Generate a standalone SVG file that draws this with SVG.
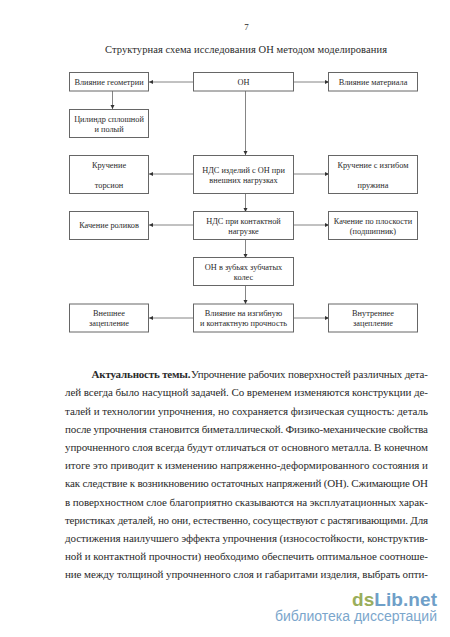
<svg xmlns="http://www.w3.org/2000/svg" width="450" height="637" viewBox="0 0 450 637">
<style>
text{font-family:"Liberation Serif","Times New Roman",serif;fill:#2a2a2a}
.n rect{fill:#fff;stroke:#666;stroke-width:1}
.n text{font-size:8.3px;text-anchor:middle}
.c line{stroke:#666;stroke-width:.8;marker-end:url(#a)}
.j{font-size:11px}
</style>
<defs><marker id="a" markerUnits="userSpaceOnUse" markerWidth="5" markerHeight="5" refX="4" refY="2.5" orient="auto"><path d="M0 .5L4 2.5L0 4.5z" fill="#333"/></marker></defs>
<rect width="450" height="637" fill="#fff"/>
<text x="246.500" y="30" font-size="9" text-anchor="middle">7</text>
<text x="246" y="53" font-size="10.5" text-anchor="middle" textLength="282">Структурная схема исследования ОН методом моделирования</text>
<g class="c">
<line x1="193" y1="82" x2="149" y2="82"/><line x1="294" y1="82" x2="329" y2="82"/>
<line x1="112.500" y1="91" x2="112.500" y2="109"/><line x1="245.500" y1="91" x2="245.500" y2="155"/>
<line x1="193" y1="174" x2="149" y2="174"/><line x1="294" y1="174" x2="329" y2="174"/>
<line x1="245.500" y1="193" x2="245.500" y2="212"/>
<line x1="193" y1="225" x2="149" y2="225"/><line x1="294" y1="225" x2="329" y2="225"/>
<line x1="245.500" y1="240" x2="245.500" y2="258"/><line x1="245.500" y1="285" x2="245.500" y2="304"/>
<line x1="193" y1="318" x2="149" y2="318"/><line x1="294" y1="318" x2="329" y2="318"/>
</g>
<g id="n1" class="n"><rect x="69.500" y="72.500" width="79" height="18.500"/><text x="109" y="85">Влияние геометрии</text></g>
<g id="n2" class="n"><rect x="193.500" y="72.500" width="100" height="18.500"/><text x="243.500" y="85">ОН</text></g>
<g id="n3" class="n"><rect x="328.500" y="72.500" width="89" height="18.500"/><text x="373" y="85">Влияние материала</text></g>
<g id="n4" class="n"><rect x="69.500" y="109.500" width="79" height="28"/><text x="109" y="122">Цилиндр сплошной</text><text x="109" y="132">и полый</text></g>
<g id="n5" class="n"><rect x="69.500" y="155.500" width="79" height="38"/><text x="109" y="168">Кручение</text><text x="109" y="188">торсион</text></g>
<g id="n6" class="n"><rect x="193.500" y="155.500" width="100" height="38"/><text x="243.500" y="173">НДС изделий с ОН при</text><text x="243.500" y="183">внешних нагрузках</text></g>
<g id="n7" class="n"><rect x="328.500" y="155.500" width="89" height="38"/><text x="373" y="168">Кручение с изгибом</text><text x="373" y="188">пружина</text></g>
<g id="n8" class="n"><rect x="69.500" y="211.500" width="79" height="28"/><text x="109" y="228">Качение роликов</text></g>
<g id="n9" class="n"><rect x="193.500" y="211.500" width="100" height="28"/><text x="243.500" y="223.500">НДС при контактной</text><text x="243.500" y="233.500">нагрузке</text></g>
<g id="n10" class="n"><rect x="328.500" y="211.500" width="89" height="28"/><text x="373" y="223.500">Качение по плоскости</text><text x="373" y="233.500">(подшипник)</text></g>
<g id="n11" class="n"><rect x="193.500" y="257.500" width="100" height="28"/><text x="243.500" y="270">ОН в зубьях зубчатых</text><text x="243.500" y="280">колес</text></g>
<g id="n12" class="n"><rect x="69.500" y="304" width="79" height="28"/><text x="109" y="316">Внешнее</text><text x="109" y="326">зацепление</text></g>
<g id="n13" class="n"><rect x="193.500" y="304" width="100" height="28"/><text x="243.500" y="316">Влияние на изгибную</text><text x="243.500" y="326">и контактную прочность</text></g>
<g id="n14" class="n"><rect x="328.500" y="304" width="89" height="28"/><text x="373" y="316">Внутреннее</text><text x="373" y="326">зацепление</text></g>
<text class="j" x="91.500" y="378" font-weight="bold" textLength="99">Актуальность темы.</text>
<text class="j" x="191" y="378" textLength="237">Упрочнение рабочих поверхностей различных дета-</text>
<text class="j" x="65" y="396.300" textLength="363">лей всегда было насущной задачей. Со временем изменяются конструкции де-</text>
<text class="j" x="65" y="414.500" textLength="363">талей и технологии упрочнения, но сохраняется физическая сущность: деталь</text>
<text class="j" x="65" y="432.700" textLength="363">после упрочнения становится биметаллической. Физико-механические свойства</text>
<text class="j" x="65" y="451" textLength="363">упрочненного слоя всегда будут отличаться от основного металла. В конечном</text>
<text class="j" x="65" y="469.200" textLength="363">итоге это приводит к изменению напряженно-деформированного состояния и</text>
<text class="j" x="65" y="487.400" textLength="363">как следствие к возникновению остаточных напряжений (ОН). Сжимающие ОН</text>
<text class="j" x="65" y="505.600" textLength="363">в поверхностном слое благоприятно сказываются на эксплуатационных харак-</text>
<text class="j" x="65" y="523.800" textLength="363">теристиках деталей, но они, естественно, сосуществуют с растягивающими. Для</text>
<text class="j" x="65" y="542" textLength="363">достижения наилучшего эффекта упрочнения (износостойкости, конструктив-</text>
<text class="j" x="65" y="560.200" textLength="363">ной и контактной прочности) необходимо обеспечить оптимальное соотноше-</text>
<text class="j" x="65" y="578.400" textLength="363">ние между толщиной упрочненного слоя и габаритами изделия, выбрать опти-</text>
<text x="352" y="606" font-size="19" font-weight="bold" textLength="85" style="font-family:'Liberation Sans',sans-serif;fill:#9aae5c">ds<tspan style="fill:#6f9fc8">Lib.net</tspan></text>
<text x="275" y="621" font-size="14" textLength="162" style="font-family:'Liberation Sans',sans-serif;fill:#7ba6cc">библиотека диссертаций</text>
</svg>
